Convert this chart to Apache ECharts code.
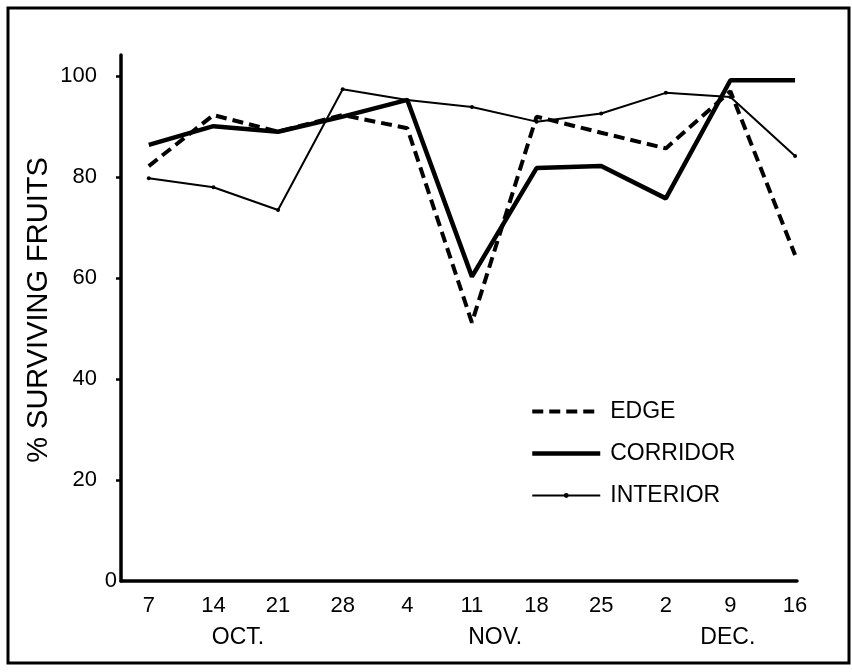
<!DOCTYPE html>
<html><head><meta charset="utf-8">
<script src="https://cdn.jsdelivr.net/npm/echarts@6/dist/echarts.min.js"></script>
<style>html,body{margin:0;padding:0;background:#fff}#c{width:852px;height:672px}</style>
</head><body><div id="c"></div>
<script>
// Data
const dateLabels = ['7', '14', '21', '28', '4', '11', '18', '25', '2', '9', '16'];
const monthLabels = ['OCT.', 'NOV.', 'DEC.'];
const monthPositions = [1.38, 5.36, 8.96];
const edge = [82.2, 92.3, 89.0, 92.3, 89.7, 51.2, 92.0, 88.8, 85.7, 97.0, 64.6];
const corridor = [86.4, 90.1, 89.0, 92.0, 95.3, 60.3, 81.8, 82.2, 75.8, 99.2, 99.2];
const interior = [79.8, 78.0, 73.5, 97.4, 95.3, 93.9, 91.0, 92.6, 96.7, 95.9, 84.2];
const yTickValues = [0, 20, 40, 60, 80, 100];
const seriesNames = ['EDGE', 'CORRIDOR', 'INTERIOR'];

const FONT = "'Liberation Sans', Arial, Helvetica, sans-serif";
const NARROW = "'Liberation Sans Narrow', 'Liberation Sans', Arial, sans-serif";
const idx = dateLabels.map((_, i) => i);
const toPts = arr => arr.map((v, i) => [i, v]);

const chart = echarts.init(document.getElementById('c'), null, { renderer: 'canvas' });
chart.setOption({
  animation: false,
  backgroundColor: '#fff',
  grid: { left: 121, right: 55, top: 55, bottom: 91, containLabel: false },
  graphic: [{
    type: 'rect', shape: { x: 8, y: 8, width: 841, height: 655 },
    style: { fill: 'none', stroke: '#000', lineWidth: 3 }, silent: true, z: 0
  }],
  legend: {
    left: 530, top: 400, orient: 'vertical', padding: 0,
    itemWidth: 68, itemHeight: 6, itemGap: 19,
    lineStyle: { width: 'inherit', type: 'inherit' },
    data: [
      { name: seriesNames[0], itemStyle: { opacity: 0 } },
      { name: seriesNames[1], itemStyle: { opacity: 0 } },
      { name: seriesNames[2] }
    ],
    textStyle: { fontFamily: FONT, fontSize: 23, color: '#000', padding: [0, 0, 0, 5] },
    inactiveColor: '#000'
  },
  xAxis: [{
    type: 'value', min: -0.43, max: 10.03, position: 'bottom',
    axisLine: { show: true, onZero: false, lineStyle: { color: '#000', width: 3.5 } },
    axisTick: { show: false },
    splitLine: { show: false },
    axisLabel: {
      customValues: idx, margin: 14,
      fontFamily: NARROW, fontSize: 22, color: '#000',
      formatter: v => dateLabels[Math.round(v)] || ''
    }
  }, {
    type: 'value', min: -0.43, max: 10.03, position: 'bottom',
    axisLine: { show: false, onZero: false }, axisTick: { show: false }, splitLine: { show: false },
    axisLabel: {
      customValues: monthPositions, margin: 45,
      fontFamily: NARROW, fontSize: 23, color: '#000',
      formatter: v => { const k = monthPositions.indexOf(v); return k >= 0 ? monthLabels[k] : ''; }
    }
  }],
  yAxis: {
    type: 'value', min: 0, max: 104.2,
    name: '% SURVIVING FRUITS', nameLocation: 'middle', nameRotate: 90, nameGap: 68,
    nameMoveOverlap: false,
    nameTextStyle: { fontFamily: FONT, fontSize: 29, color: '#000', padding: [0, 0, 0, 16] },
    axisLine: { show: true, onZero: false, lineStyle: { color: '#000', width: 3.5 } },
    axisTick: { show: true, customValues: yTickValues.filter(v => v > 0), length: 5, lineStyle: { color: '#000', width: 2.5 } },
    splitLine: { show: false },
    axisLabel: {
      customValues: yTickValues, margin: 4, color: '#000',
      formatter: v => v === 0 ? '{z|0}' : '{n|' + v + '}',
      rich: {
        z: { fontFamily: FONT, fontSize: 22, color: '#000' },
        n: { fontFamily: FONT, fontSize: 22, color: '#000', padding: [0, 20, 0, 0] }
      }
    }
  },
  series: [{
    name: seriesNames[0], type: 'line', data: toPts(edge), symbol: 'none',
    lineStyle: { color: '#000', width: 4, type: [11, 6] }, itemStyle: { color: '#000' }, z: 3
  }, {
    name: seriesNames[1], type: 'line', data: toPts(corridor), symbol: 'none',
    lineStyle: { color: '#000', width: 4.5 }, itemStyle: { color: '#000' }, z: 4
  }, {
    name: seriesNames[2], type: 'line', data: toPts(interior), symbol: 'circle', symbolSize: 4,
    showSymbol: true,
    lineStyle: { color: '#000', width: 2 }, itemStyle: { color: '#000' }, z: 2
  }]
});
</script></body></html>
